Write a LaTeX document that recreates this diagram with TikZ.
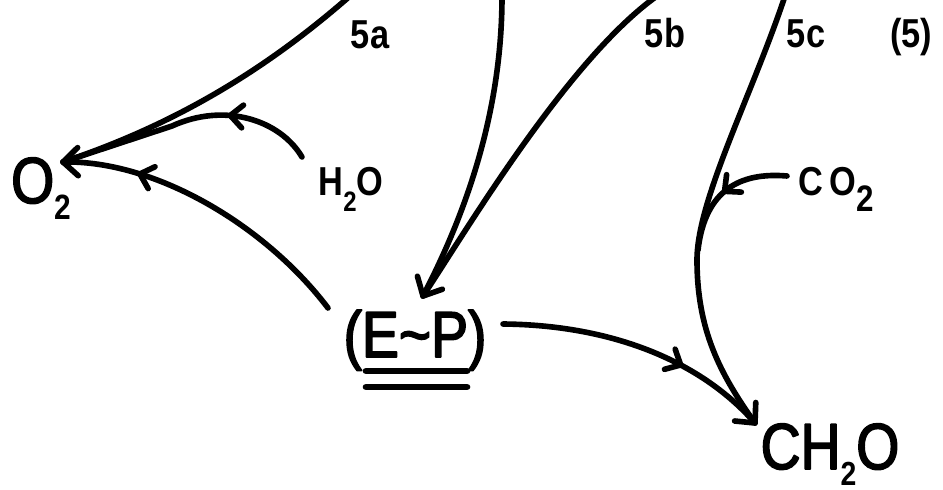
\documentclass[tikz,border=0pt]{standalone}
\usepackage{fontspec}
\setmainfont[FakeStretch=0.85]{Liberation Sans}
\newfontfamily\bigfont[FakeStretch=0.85,FakeBold=2.5]{Liberation Sans}
\usetikzlibrary{decorations.markings}
\newcommand{\subtwo}[2]{\raisebox{-#1}{\normalfont\bfseries\fontsize{#2}{#2}\selectfont 2}}
\newcommand{\midchev}{\draw[line width=3.2pt,line cap=round,line join=round] (-7pt,6.5pt) -- (0pt,0pt) -- (-7pt,-6.5pt);}
\newcommand{\tipchev}{\draw[line width=3.2pt,line cap=round,line join=round] (-8.5pt,8pt) -- (0pt,0pt) -- (-8.5pt,-8pt);}
\begin{document}
\begin{tikzpicture}[x=0.02cm,y=-0.02cm,line width=3.2pt,line cap=round,line join=round,
  endtip/.style={postaction={decoration={markings,mark=at position 1 with {\tipchev}},decorate}},
  midarrow/.style={postaction={decoration={markings,mark=at position #1 with {\midchev}},decorate}},
  big/.style={font=\bigfont\fontsize{37}{40}\selectfont,inner sep=0pt,anchor=base},
  small/.style={font=\bfseries\fontsize{23}{26}\selectfont,inner sep=0pt,anchor=base},
  bar/.style={line width=3.8pt}]
\useasboundingbox (0,0) rectangle (943,490);
% texts
\node[big] (O2) at (41,203) {O\subtwo{9.6pt}{20pt}};
\node[big] (EP) at (415,357) {(E\textasciitilde P)};
\node[big] (CH2O) at (830,469) {CH\subtwo{9.3pt}{19pt}O};
\node[small] (H2O) at (351,195) {H\subtwo{9.6pt}{16pt}O};
\node[small] (CO2) at (836,195) {C\,O\subtwo{9.6pt}{21pt}};
\node[small] (l5a) at (370,48) {5a};
\node[small] (l5b) at (665,47) {5b};
\node[small] (l5c) at (806,47) {5c};
\node[small] (l5) at (911,47) {(5)};
% double bar under E~P
\draw[bar] (366,371) -- (467,371);
\draw[bar] (366,387) -- (467,387);
% coordinates
\coordinate (top5a) at (350,-4);
\coordinate (o2tip) at (63,162);
\coordinate (h2ostart) at (302,157);
\coordinate (h2ojoin) at (172,126);
\coordinate (epstart) at (328,308);
\coordinate (topv) at (502,-4);
\coordinate (top5b) at (657,-4);
\coordinate (eptip) at (423,296);
\coordinate (top5c) at (785,-4);
\coordinate (c5bend) at (697,260);
\coordinate (ch2otip) at (755,423);
\coordinate (epright) at (503,324);
\coordinate (co2start) at (787,176);
\coordinate (co2join) at (698,250);
\begin{scope}
\clip (0,0) rectangle (943,490);
% reaction 5a
\draw (top5a) .. controls (270,66) and (180,123) .. (o2tip);
\draw[midarrow=0.33] (h2ostart) .. controls (280,120) and (225,102) .. (h2ojoin) -- (o2tip);
\draw[endtip,midarrow=0.75] (epstart) .. controls (265,225) and (155,160) .. (o2tip);
% into E~P
\draw[endtip] (topv) .. controls (502,100) and (473,200) .. (eptip);
\draw (top5b) .. controls (567,60) and (463,236) .. (eptip);
% reaction 5c
\draw (top5c) .. controls (752,95) and (697,200) .. (c5bend)
      .. controls (697,330) and (720,374) .. (ch2otip);
\draw[midarrow=0.5] (co2start) .. controls (740,172) and (705,190) .. (co2join);
\draw[endtip,midarrow=0.66] (epright) .. controls (610,325) and (700,360) .. (ch2otip);
\end{scope}
\end{tikzpicture}
\end{document}
